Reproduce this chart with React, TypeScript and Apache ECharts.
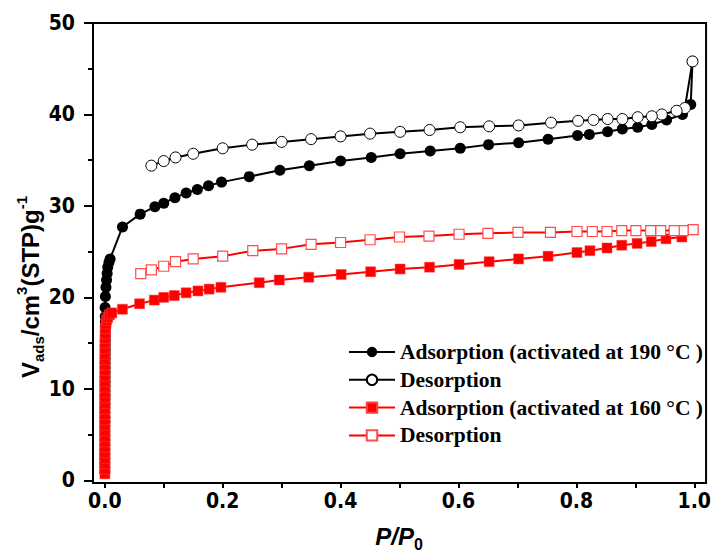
import React, { useEffect, useRef } from "react";
import * as echarts from "echarts";

const xMajorTicks = [0, 0.2, 0.4, 0.6, 0.8, 1.0];
const xAllTicks = [0, 0.1, 0.2, 0.3, 0.4, 0.5, 0.6, 0.7, 0.8, 0.9, 1.0];
const yMajorTicks = [0, 10, 20, 30, 40, 50];

const legendNames = [
  "Adsorption (activated at 190 °C )",
  "Desorption",
  "Adsorption (activated at 160 °C )",
  "Desorption ",
];

const blackAdsorption: [number, number][] = [
  [0.0001, 0.9], [0.0001, 1.4], [0.0001, 1.9], [0.0001, 2.4], [0.0001, 2.9], [0.0001, 3.4],
  [0.0002, 3.9], [0.0002, 4.4], [0.0002, 4.9], [0.0002, 5.4], [0.0002, 5.9], [0.0003, 6.4],
  [0.0003, 6.9], [0.0003, 7.4], [0.0003, 7.9], [0.0004, 8.4], [0.0004, 8.9], [0.0005, 9.3],
  [0.0005, 9.8], [0.0005, 10.3], [0.0006, 10.8], [0.0006, 11.3], [0.0006, 11.8], [0.0007, 12.3],
  [0.0007, 12.8], [0.0007, 13.3], [0.0008, 13.8], [0.0008, 14.3], [0.0008, 14.8], [0.0009, 15.3],
  [0.0009, 15.8], [0.001, 16.3], [0.001, 16.8], [0.001, 17.3], [0.0008, 17.9], [0.0005, 18.9],
  [0.001, 20.1], [0.002, 21.1], [0.003, 21.9], [0.004, 22.6], [0.005, 23.3], [0.007, 23.8],
  [0.009, 24.2], [0.030, 27.7], [0.060, 29.1], [0.085, 29.9], [0.100, 30.3], [0.119, 30.9],
  [0.138, 31.4], [0.157, 31.8], [0.176, 32.2], [0.198, 32.6], [0.245, 33.2], [0.297, 33.9],
  [0.347, 34.4], [0.400, 34.9], [0.452, 35.3], [0.501, 35.7], [0.552, 36.0], [0.603, 36.3],
  [0.651, 36.7], [0.702, 36.9], [0.752, 37.3], [0.802, 37.7], [0.822, 37.8], [0.853, 38.1],
  [0.878, 38.4], [0.904, 38.6], [0.928, 38.9], [0.953, 39.4], [0.980, 40.0], [0.994, 41.1],
  [0.997, 45.8],
];

const blackDesorption: [number, number][] = [
  [0.997, 45.8], [0.984, 40.7], [0.970, 40.4], [0.945, 40.0], [0.928, 39.8], [0.904, 39.7],
  [0.878, 39.5], [0.853, 39.5], [0.829, 39.4], [0.803, 39.3], [0.757, 39.1], [0.702, 38.8],
  [0.652, 38.7], [0.603, 38.6], [0.551, 38.3], [0.501, 38.1], [0.450, 37.9], [0.400, 37.6],
  [0.350, 37.3], [0.300, 37.0], [0.250, 36.7], [0.200, 36.3], [0.150, 35.7], [0.120, 35.3],
  [0.100, 34.9], [0.079, 34.4],
];

const redAdsorption: [number, number][] = [
  [0.0002, 0.7], [0.0002, 1.2], [0.0002, 1.8], [0.0002, 2.4], [0.0002, 3.0], [0.0002, 3.6],
  [0.0002, 4.2], [0.0002, 4.8], [0.0002, 5.4], [0.0002, 6.0], [0.0002, 6.6], [0.0002, 7.2],
  [0.0002, 7.8], [0.0002, 8.4], [0.0002, 9.0], [0.0002, 9.6], [0.0002, 10.2], [0.0002, 10.8],
  [0.0002, 11.4], [0.0002, 12.0], [0.0002, 12.6], [0.0002, 13.2], [0.0003, 13.8], [0.0003, 14.4],
  [0.0004, 15.0], [0.0006, 15.5], [0.001, 16.0], [0.001, 16.6], [0.002, 17.1], [0.003, 17.5],
  [0.005, 17.8], [0.008, 18.1], [0.012, 18.3], [0.030, 18.7], [0.059, 19.3], [0.084, 19.7],
  [0.100, 20.0], [0.118, 20.2], [0.138, 20.5], [0.158, 20.7], [0.177, 20.9], [0.197, 21.1],
  [0.262, 21.6], [0.296, 21.9], [0.346, 22.2], [0.401, 22.5], [0.451, 22.8], [0.501, 23.1],
  [0.551, 23.3], [0.601, 23.6], [0.652, 23.9], [0.702, 24.2], [0.752, 24.5], [0.801, 24.9],
  [0.823, 25.1], [0.852, 25.4], [0.877, 25.7], [0.903, 25.9], [0.927, 26.1], [0.952, 26.4],
  [0.979, 26.6], [0.998, 27.4],
];

const redDesorption: [number, number][] = [
  [0.998, 27.4], [0.981, 27.3], [0.966, 27.3], [0.943, 27.3], [0.926, 27.3], [0.901, 27.3],
  [0.877, 27.3], [0.852, 27.2], [0.827, 27.2], [0.801, 27.2], [0.756, 27.1], [0.701, 27.1],
  [0.650, 27.0], [0.601, 26.9], [0.550, 26.7], [0.500, 26.6], [0.450, 26.3], [0.400, 26.0],
  [0.350, 25.8], [0.300, 25.3], [0.251, 25.1], [0.200, 24.5], [0.150, 24.2], [0.120, 23.9],
  [0.100, 23.4], [0.079, 23.0], [0.061, 22.6],
];

const narrow = "'Liberation Sans Narrow', 'Arial Narrow', 'DejaVu Sans Condensed', sans-serif";

const tickFont = {
  fontFamily: narrow,
  fontWeight: "bold" as const,
  fontSize: 21,
  color: "#000",
};

export default function App() {
  const ref = useRef<HTMLDivElement>(null);
  useEffect(() => {
    if (!ref.current) return;
    const chart = echarts.init(ref.current, null, { renderer: "svg" });
    const option: any = {
      animation: false,
      backgroundColor: "#fff",
      grid: {
        left: 93,
        top: 23,
        width: 617,
        height: 460,
        show: true,
        borderColor: "#000",
        borderWidth: 2,
        backgroundColor: "transparent",
      },
      graphic: [
        {
          type: "text",
          x: 30,
          y: 287,
          rotation: Math.PI / 2,
          style: {
            text: "{n|V}{sub|ads}{n|/cm}{sup|3}{n|(STP)g}{sup|-1}",
            align: "center",
            verticalAlign: "middle",
            rich: {
              n: { fontFamily: "Liberation Sans", fontWeight: "bold", fontSize: 24, fill: "#000", lineHeight: 32, verticalAlign: "middle" },
              sub: { fontFamily: "Liberation Sans", fontWeight: "bold", fontSize: 15, fill: "#000", lineHeight: 20, verticalAlign: "bottom" },
              sup: { fontFamily: "Liberation Sans", fontWeight: "bold", fontSize: 15, fill: "#000", lineHeight: 20, verticalAlign: "top" },
            },
          },
        },
        {
          type: "text",
          x: 399,
          y: 536,
          style: {
            text: "{i|P/P}{s|0}",
            align: "center",
            verticalAlign: "middle",
            rich: {
              i: { fontFamily: "Liberation Sans", fontStyle: "italic", fontWeight: "bold", fontSize: 24, fill: "#000", lineHeight: 32, verticalAlign: "middle" },
              s: { fontFamily: "Liberation Sans", fontWeight: "bold", fontSize: 16, fill: "#000", lineHeight: 22, verticalAlign: "bottom" },
            },
          },
        },
      ],
      legend: {
        orient: "vertical",
        left: 343,
        top: 336,
        itemWidth: 46,
        itemHeight: 13,
        itemGap: 5.8,
        data: legendNames,
        textStyle: {
          fontFamily: "Liberation Serif",
          fontWeight: "bold",
          fontSize: 21.5,
          lineHeight: 21,
          color: "#000",
        },
      },
      xAxis: {
        type: "value",
        min: -0.02,
        max: 1.02,
        axisLine: { show: true, onZero: false, lineStyle: { color: "#000", width: 2 } },
        axisTick: { show: true, inside: false, length: 5, customValues: xAllTicks, lineStyle: { color: "#000", width: 2 } },
        axisLabel: {
          ...tickFont,
          margin: 7,
          customValues: xMajorTicks,
          formatter: (v: number) => v.toFixed(1),
        },
        splitLine: { show: false },
      },
      yAxis: {
        type: "value",
        min: -0.3,
        max: 50,
        position: "left",
        axisLine: { show: true, onZero: false, lineStyle: { color: "#000", width: 2 } },
        axisTick: { show: true, inside: false, length: 9, customValues: yMajorTicks, lineStyle: { color: "#000", width: 2 } },
        minorTick: { show: true, splitNumber: 2, length: 5, lineStyle: { color: "#000", width: 2 } },
        axisLabel: { ...tickFont, margin: 18, customValues: yMajorTicks },
        splitLine: { show: false },
        minorSplitLine: { show: false },
      },
      series: [
        {
          name: legendNames[0],
          type: "line",
          data: blackAdsorption,
          symbol: "circle",
          symbolSize: 11,
          itemStyle: { color: "#000" },
          lineStyle: { color: "#000", width: 2 },
          z: 2,
        },
        {
          name: legendNames[1],
          type: "line",
          data: blackDesorption,
          symbol: "circle",
          symbolSize: 11,
          itemStyle: { color: "#fff", borderColor: "#000", borderWidth: 1 },
          lineStyle: { color: "#000", width: 2 },
          z: 3,
        },
        {
          name: legendNames[2],
          type: "line",
          data: redAdsorption,
          symbol: "rect",
          symbolSize: 10,
          itemStyle: { color: "#ff0000", borderColor: "#ff4040", borderWidth: 0.5 },
          lineStyle: { color: "#ff0000", width: 2 },
          z: 4,
        },
        {
          name: legendNames[3],
          type: "line",
          data: redDesorption,
          symbol: "rect",
          symbolSize: 10,
          itemStyle: { color: "#fff", borderColor: "#ff4d4d", borderWidth: 1.2 },
          lineStyle: { color: "#ff0000", width: 2 },
          z: 5,
        },
      ],
    };
    chart.setOption(option);
    return () => chart.dispose();
  }, []);
  return <div ref={ref} style={{ width: 714, height: 552, position: "absolute", left: 0, top: 0 }} />;
}
